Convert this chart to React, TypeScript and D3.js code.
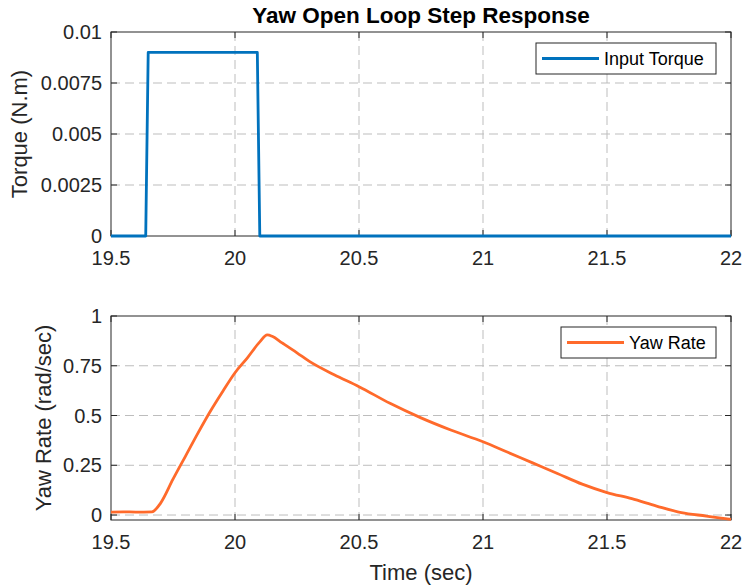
import React from "react";
import * as d3 from "d3";

// torque input (N.m)
const torqueTime = [19.5, 19.64, 19.65, 20.09, 20.1, 22];
const torqueValue = [0, 0, 0.009, 0.009, 0, 0];

// yaw rate response (rad/sec)
const yawTime = [
  19.5, 19.55, 19.6, 19.665, 19.7, 19.75, 19.8, 19.85, 19.9, 19.95, 20.0, 20.05, 20.1,
  20.13, 20.15, 20.19, 20.25, 20.3, 20.4, 20.5, 20.625, 20.75, 20.87, 21.0, 21.1, 21.2,
  21.3, 21.4, 21.5, 21.6, 21.7, 21.8, 21.9, 22.0,
];
const yawRate = [
  0.015, 0.016, 0.015, 0.016, 0.06, 0.18, 0.295, 0.41, 0.52, 0.62, 0.715, 0.79, 0.87,
  0.905, 0.898, 0.865, 0.815, 0.772, 0.705, 0.645, 0.561, 0.488, 0.427, 0.368, 0.315, 0.262,
  0.209, 0.155, 0.113, 0.082, 0.045, 0.012, -0.005, -0.022,
];

const xTicks = [19.5, 20, 20.5, 21, 21.5, 22];
const xTickLabels = ["19.5", "20", "20.5", "21", "21.5", "22"];
const torqueTicks = [0, 0.0025, 0.005, 0.0075, 0.01];
const torqueTickLabels = ["0", "0.0025", "0.005", "0.0075", "0.01"];
const rateTicks = [0, 0.25, 0.5, 0.75, 1];
const rateTickLabels = ["0", "0.25", "0.5", "0.75", "1"];

const W = 744;
const H = 587;
const FONT = "'Liberation Sans', Arial, Helvetica, sans-serif";
const AXIS_COLOR = "#262626";
const GRID_COLOR = "#bdbdbd";
const BLUE = "#0072bd";
const ORANGE = "#ff6a2b";

type PanelProps = {
  top: number;
  bottom: number;
  yDomain: [number, number];
  yTicks: number[];
  yTickLabels: string[];
  xs: number[];
  ys: number[];
  color: string;
  smooth: boolean;
  yLabel: string;
  yLabelX: number;
  legend: string;
  legendBox: { x: number; y: number; w: number; h: number };
};

const left = 111;
const right = 731;

const Panel = (p: PanelProps) => {
  const x = d3.scaleLinear().domain([19.5, 22]).range([left, right]);
  const y = d3.scaleLinear().domain(p.yDomain).range([p.bottom, p.top]);
  const pts = p.xs.map((t, i) => [t, p.ys[i]] as [number, number]);
  const line = d3
    .line<[number, number]>()
    .x((d) => x(d[0]))
    .y((d) => y(d[1]))
    .curve(p.smooth ? d3.curveMonotoneX : d3.curveLinear);
  const tickLen = 6;
  const lb = p.legendBox;

  return (
    <g>
      {/* grid */}
      {xTicks
        .filter((t) => t > 19.5 && t < 22)
        .map((t) => (
          <line
            key={"gx" + t}
            x1={x(t)}
            x2={x(t)}
            y1={p.top}
            y2={p.bottom}
            stroke={GRID_COLOR}
            strokeDasharray="9,5"
          />
        ))}
      {p.yTicks
        .filter((t) => y(t) > p.top + 1 && y(t) < p.bottom - 1)
        .map((t) => (
          <line
            key={"gy" + t}
            x1={left}
            x2={right}
            y1={y(t)}
            y2={y(t)}
            stroke={GRID_COLOR}
            strokeDasharray="9,5"
          />
        ))}

      {/* box + ticks */}
      <rect
        x={left}
        y={p.top}
        width={right - left}
        height={p.bottom - p.top}
        fill="none"
        stroke={AXIS_COLOR}
        strokeWidth={1}
      />
      {xTicks.map((t) => (
        <g key={"tx" + t}>
          <line x1={x(t)} x2={x(t)} y1={p.bottom} y2={p.bottom - tickLen} stroke={AXIS_COLOR} />
          <line x1={x(t)} x2={x(t)} y1={p.top} y2={p.top + tickLen} stroke={AXIS_COLOR} />
        </g>
      ))}
      {p.yTicks.map((t) => (
        <g key={"ty" + t}>
          <line x1={left} x2={left + tickLen} y1={y(t)} y2={y(t)} stroke={AXIS_COLOR} />
          <line x1={right} x2={right - tickLen} y1={y(t)} y2={y(t)} stroke={AXIS_COLOR} />
        </g>
      ))}

      {/* data */}
      <path d={line(pts) || ""} fill="none" stroke={p.color} strokeWidth={2.8} strokeLinejoin="round" />

      {/* tick labels */}
      {xTicks.map((t, i) => (
        <text
          key={"lx" + t}
          x={x(t)}
          y={p.bottom + 29}
          textAnchor="middle"
          fontSize={20}
          fill={AXIS_COLOR}
        >
          {xTickLabels[i]}
        </text>
      ))}
      {p.yTicks.map((t, i) => (
        <text
          key={"ly" + t}
          x={left - 9}
          y={y(t)}
          dy="0.36em"
          textAnchor="end"
          fontSize={20}
          fill={AXIS_COLOR}
        >
          {p.yTickLabels[i]}
        </text>
      ))}

      {/* y label */}
      <text
        transform={`translate(${p.yLabelX},${(p.top + p.bottom) / 2}) rotate(-90)`}
        textAnchor="middle"
        fontSize={22}
        fill={AXIS_COLOR}
      >
        {p.yLabel}
      </text>

      {/* legend */}
      <rect x={lb.x} y={lb.y} width={lb.w} height={lb.h} fill="white" stroke={AXIS_COLOR} strokeWidth={1} />
      <line
        x1={lb.x + 6}
        x2={lb.x + 63}
        y1={lb.y + lb.h / 2}
        y2={lb.y + lb.h / 2}
        stroke={p.color}
        strokeWidth={2.8}
      />
      <text x={lb.x + 68} y={lb.y + lb.h / 2} dy="0.36em" fontSize={18} fill="#000">
        {p.legend}
      </text>
    </g>
  );
};

export default function App() {
  return (
    <svg
      width={W}
      height={H}
      style={{ position: "absolute", left: 0, top: 0, background: "white", fontFamily: FONT }}
    >
      <rect width={W} height={H} fill="white" />
      <text
        x={(left + right) / 2}
        y={23}
        textAnchor="middle"
        fontSize={22.5}
        fontWeight="bold"
        fill="#000"
      >
        Yaw Open Loop Step Response
      </text>
      <Panel
        top={32}
        bottom={236}
        yDomain={[0, 0.01]}
        yTicks={torqueTicks}
        yTickLabels={torqueTickLabels}
        xs={torqueTime}
        ys={torqueValue}
        color={BLUE}
        smooth={false}
        yLabel="Torque (N.m)"
        yLabelX={27}
        legend="Input Torque"
        legendBox={{ x: 536, y: 43, w: 180, h: 31 }}
      />
      <Panel
        top={316}
        bottom={520}
        yDomain={[-0.025, 1]}
        yTicks={rateTicks}
        yTickLabels={rateTickLabels}
        xs={yawTime}
        ys={yawRate}
        color={ORANGE}
        smooth={true}
        yLabel="Yaw Rate (rad/sec)"
        yLabelX={51}
        legend="Yaw Rate"
        legendBox={{ x: 561, y: 327, w: 155, h: 31 }}
      />
      <text x={(left + right) / 2} y={580} textAnchor="middle" fontSize={22} fill={AXIS_COLOR}>
        Time (sec)
      </text>
    </svg>
  );
}
